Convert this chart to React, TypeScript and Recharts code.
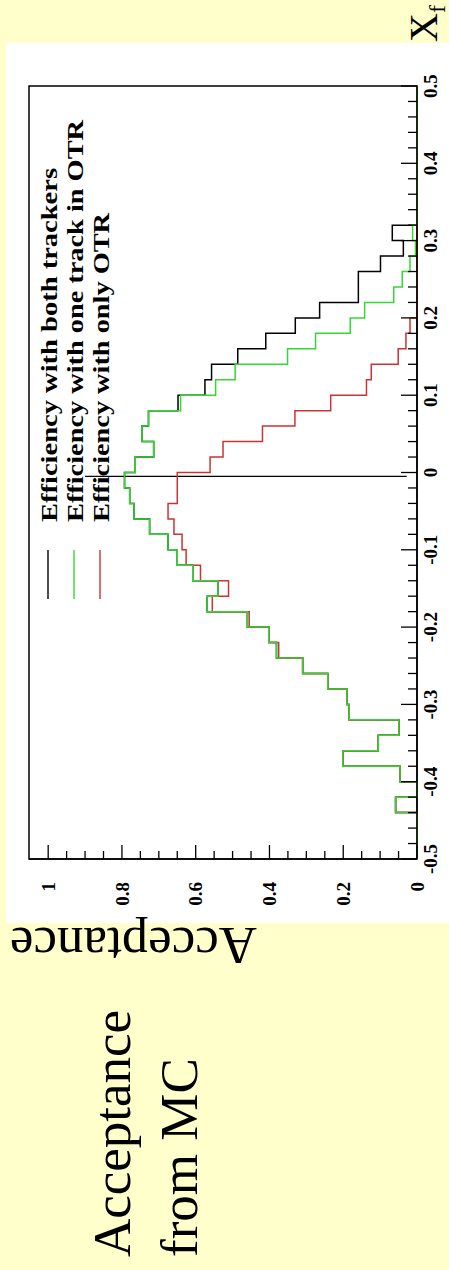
import React from 'react';
import { LineChart, Line, XAxis, YAxis, ReferenceLine, ReferenceArea, Legend } from 'recharts';

// histogram bin edges in x_F (50 bins of 0.02)
const BIN_EDGES = [
  -0.5, -0.48, -0.46, -0.44, -0.42, -0.4, -0.38, -0.36, -0.34, -0.32,
  -0.3, -0.28, -0.26, -0.24, -0.22, -0.2, -0.18, -0.16, -0.14, -0.12,
  -0.1, -0.08, -0.06, -0.04, -0.02, 0, 0.02, 0.04, 0.06, 0.08,
  0.1, 0.12, 0.14, 0.16, 0.18, 0.2, 0.22, 0.24, 0.26, 0.28,
  0.3, 0.32, 0.34, 0.36, 0.38, 0.4, 0.42, 0.44, 0.46, 0.48, 0.5,
];

const BOTH_TRACKERS = [
  0, 0, 0, 0.058, 0, 0.046, 0.201, 0.105, 0.049, 0.184,
  0.19, 0.242, 0.31, 0.381, 0.402, 0.46, 0.569, 0.54, 0.608, 0.65,
  0.675, 0.725, 0.767, 0.779, 0.793, 0.764, 0.714, 0.746, 0.728, 0.648,
  0.575, 0.557, 0.486, 0.41, 0.33, 0.264, 0.159, 0.159, 0.099, 0.037,
  0.067, 0, 0, 0, 0, 0, 0, 0, 0, 0,
];

const ONE_TRACK_OTR = [
  0, 0, 0, 0.058, 0, 0.046, 0.201, 0.105, 0.049, 0.184,
  0.19, 0.242, 0.31, 0.381, 0.402, 0.46, 0.569, 0.54, 0.608, 0.65,
  0.675, 0.725, 0.767, 0.779, 0.793, 0.764, 0.714, 0.746, 0.728, 0.641,
  0.546, 0.493, 0.351, 0.275, 0.181, 0.142, 0.063, 0.04, 0.019, 0.004,
  0.012, 0, 0, 0, 0, 0, 0, 0, 0, 0,
];

const ONLY_OTR = [
  0, 0, 0, 0.058, 0, 0.046, 0.201, 0.105, 0.049, 0.184,
  0.19, 0.242, 0.31, 0.375, 0.402, 0.455, 0.555, 0.511, 0.587, 0.626,
  0.637, 0.659, 0.675, 0.65, 0.65, 0.561, 0.526, 0.419, 0.331, 0.234,
  0.137, 0.124, 0.051, 0.03, 0.019, 0, 0, 0, 0, 0,
  0, 0, 0, 0, 0, 0, 0, 0, 0, 0,
];

const XF_LABELS = ['-0.5', '-0.4', '-0.3', '-0.2', '-0.1', '0', '0.1', '0.2', '0.3', '0.4', '0.5'];
const ACC_LABELS = ['0', '0.2', '0.4', '0.6', '0.8', '1'];

// vertical marker drawn at x_F ~ 0
const ZERO_MARK = { xf: -0.005, from: 0.028, to: 0.9 };

const Y_MAX = 1.052;

const SERIES = [
  { key: 'both', name: 'Efficiency with both trackers', color: '#000000', textLength: 354 },
  { key: 'one', name: 'Efficiency with one track in OTR', color: '#33d833', textLength: 402 },
  { key: 'only', name: 'Efficiency with only OTR', color: '#cc3333', textLength: 309 },
];

const rows = BIN_EDGES.map((xf, i) => ({
  xf,
  both: BOTH_TRACKERS[Math.min(i, BOTH_TRACKERS.length - 1)],
  one: ONE_TRACK_OTR[Math.min(i, ONE_TRACK_OTR.length - 1)],
  only: ONLY_OTR[Math.min(i, ONLY_OTR.length - 1)],
}));

const xfTicks = Array.from({ length: 51 }, (_, i) => Math.round((-0.5 + i * 0.02) * 100) / 100);
const accTicks = Array.from({ length: 21 }, (_, i) => Math.round(i * 5) / 100);

const SERIF = '"Liberation Serif", "Times New Roman", serif';

const findLabel = (labels: string[], v: number) =>
  labels.find((l) => Math.abs(Number(l) - v) < 1e-6);

const XfTick = (props: any) => {
  const { x, y, payload } = props;
  const label = findLabel(XF_LABELS, payload.value);
  return (
    <g>
      <line x1={x} x2={x} y1={y} y2={y - (label ? 16 : 9)} stroke="#000" strokeWidth={1.3} />
      {label && (
        <text x={x} y={y + 20} textAnchor="middle" fontFamily={SERIF} fontWeight="bold" fontSize={19} fill="#000">
          {label}
        </text>
      )}
    </g>
  );
};

const AccTick = (props: any) => {
  const { x, y, payload } = props;
  const label = findLabel(ACC_LABELS, payload.value);
  return (
    <g>
      <line x1={x} x2={x + (label ? 14 : 8)} y1={y} y2={y} stroke="#000" strokeWidth={1.3} />
      {label && (
        <text x={x - 23} y={y} dy="0.35em" textAnchor="end" fontFamily={SERIF} fontWeight="bold" fontSize={19} fill="#000">
          {label}
        </text>
      )}
    </g>
  );
};

const LegendBox = () => (
  <svg width={1270} height={449} style={{ position: 'absolute', left: 0, top: 0 }}>
    {SERIES.map((s, i) => (
      <g key={s.key}>
        <line x1={671} x2={720} y1={48 + i * 26} y2={48 + i * 26} stroke={s.color} strokeWidth={1.4} />
        <text
          x={748}
          y={57 + i * 26}
          fontFamily={SERIF}
          fontWeight="bold"
          fontSize={24}
          textLength={s.textLength}
          lengthAdjust="spacingAndGlyphs"
          fill="#000"
        >
          {s.name}
        </text>
      </g>
    ))}
  </svg>
);

export default function App() {
  return (
    <div style={{ position: 'absolute', left: 0, top: 0, width: 449, height: 1270, overflow: 'hidden', background: '#ffffcc' }}>
      <div
        style={{
          position: 'absolute',
          left: 0,
          top: 0,
          width: 1270,
          height: 449,
          transformOrigin: '0 0',
          transform: 'translateY(1270px) rotate(-90deg)',
        }}
      >
        <div style={{ position: 'absolute', left: 347, top: 6, width: 880, height: 443, background: '#ffffff' }} />
        <div style={{ position: 'absolute', left: 0, top: 0 }}>
          <LineChart width={1270} height={449} data={rows} margin={{ top: 29, right: 86, bottom: 0, left: 0 }}>
            <XAxis
              type="number"
              dataKey="xf"
              domain={[-0.5, 0.5]}
              ticks={xfTicks}
              interval={0}
              height={32}
              tickSize={0}
              tickMargin={0}
              tickLine={false}
              tick={<XfTick />}
              axisLine={{ stroke: '#000', strokeWidth: 1.5 }}
            />
            <YAxis
              type="number"
              domain={[0, Y_MAX]}
              ticks={accTicks}
              interval={0}
              width={411}
              tickSize={0}
              tickMargin={0}
              tickLine={false}
              tick={<AccTick />}
              axisLine={{ stroke: '#000', strokeWidth: 1.5 }}
            />
            <ReferenceArea x1={-0.5} x2={0.5} y1={0} y2={Y_MAX} fill="none" fillOpacity={0} stroke="#000" strokeWidth={1.5} ifOverflow="visible" />
            <ReferenceLine
              segment={[{ x: ZERO_MARK.xf, y: ZERO_MARK.from }, { x: ZERO_MARK.xf, y: ZERO_MARK.to }]}
              stroke="#000"
              strokeWidth={1.4}
              ifOverflow="visible"
            />
            <Line type="stepAfter" dataKey="both" name={SERIES[0].name} stroke={SERIES[0].color} strokeWidth={1.5} dot={false} isAnimationActive={false} />
            <Line type="stepAfter" dataKey="only" name={SERIES[2].name} stroke={SERIES[2].color} strokeWidth={1.5} dot={false} isAnimationActive={false} />
            <Line type="stepAfter" dataKey="one" name={SERIES[1].name} stroke={SERIES[1].color} strokeWidth={1.5} dot={false} isAnimationActive={false} />
            <Legend
              layout="vertical"
              align="center"
              verticalAlign="middle"
              content={() => <LegendBox />}
              wrapperStyle={{ left: 0, top: 0, width: 1270, height: 449, pointerEvents: 'none' }}
            />
          </LineChart>
        </div>
        <svg width={1270} height={449} style={{ position: 'absolute', left: 0, top: 0, overflow: 'visible' }}>
          <text transform="translate(342,133.5) rotate(-90)" textAnchor="middle" fontFamily={SERIF} fontSize={53} fill="#000">
            Acceptance
          </text>
          <text x={13} y={130} fontFamily={SERIF} fontSize={53} fill="#000">
            Acceptance
          </text>
          <text x={13} y={197} fontFamily={SERIF} fontSize={53} fill="#000">
            from MC
          </text>
          <text x={1228} y={437} fontFamily={SERIF} fontSize={40} fill="#000">
            X
          </text>
          <text x={1257} y={445} fontFamily={SERIF} fontSize={24} fill="#000">
            f
          </text>
        </svg>
      </div>
    </div>
  );
}
